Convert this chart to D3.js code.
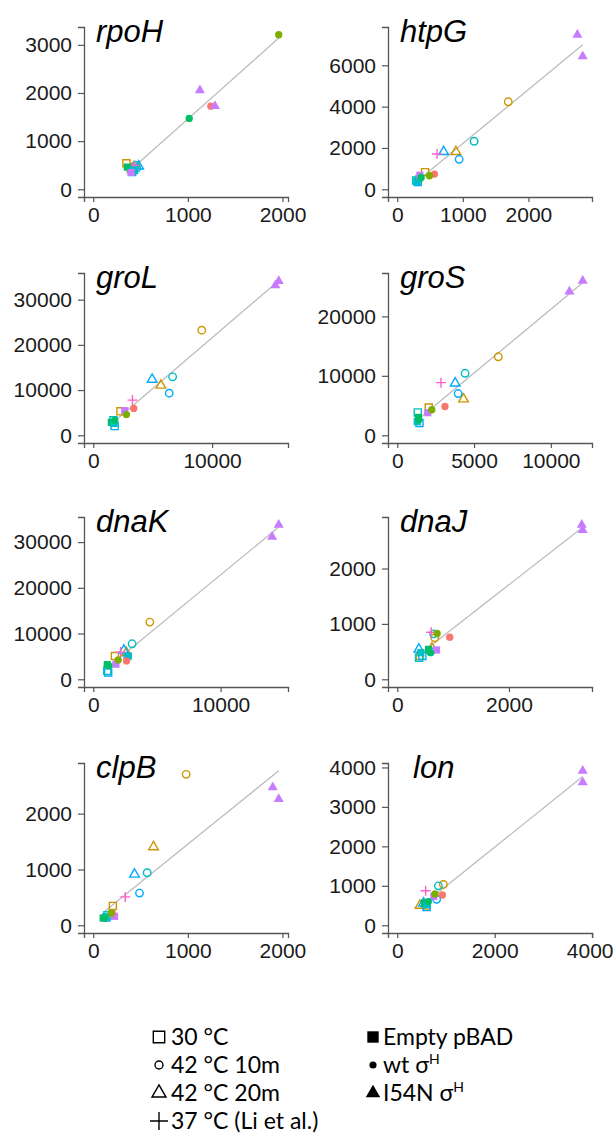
<!DOCTYPE html>
<html>
<head>
<meta charset="utf-8">
<script src="https://cdn.jsdelivr.net/npm/d3@7"></script>
<style>
  body { margin: 0; background: #fff; }
  .legend text { font-family: Lato, "Open Sans", sans-serif; }
</style>
</head>
<body>
<svg id="chart" width="614" height="1141"></svg>
<script>
// ---- data ----------------------------------------------------------------
const genes = ["rpoH", "htpG", "groL", "groS", "dnaK", "dnaJ", "clpB", "lon"];

// one entry per sample, same order in every gene array below
const groupColor = [1, 1, 1, 5, 5, 5, 4, 4, 7, 3, 4, 6, 0, 2, 3, 6, 6];
const groupShape = ["square", "circle", "triangle", "square", "circle", "triangle",
                    "square", "circle", "cross", "square", "square", "square",
                    "circle", "circle", "circle", "triangle", "triangle"];
const groupFilled = [false, false, false, false, false, false, false, false, false,
                     true, true, true, true, true, true, true, true];

const rpoHX = [350, 440, 410, 410, 460, 480, 430, 450, 430, 360, 420, 400, 1243, 1960, 1014, 1127, 1286];
const rpoHY = [540, 470, 430, 360, 440, 480, 400, 500, 500, 460, 390, 350, 1726, 3210, 1472, 2056, 1726];
const htpGX = [424, 1692, 894, 313, 944, 707, 288, 1172, 606, 330, 300, 345, 566, 490, 364, 2747, 2828];
const htpGY = [830, 4234, 1814, 350, 1451, 1814, 420, 2325, 1704, 520, 380, 680, 735, 654, 573, 7480, 6430];
const groLX = [2282, 9129, 5689, 1800, 6391, 4954, 1700, 6678, 3297, 1520, 1750, 2646, 3407, 2790, 1800, 15606, 15326];
const groLY = [5294, 23246, 11046, 2030, 9303, 12352, 3300, 12920, 7778, 2850, 2600, 5447, 5948, 4575, 3300, 34100, 33180];
const groSX = [2050, 6578, 4314, 1445, 3965, 3771, 1337, 4418, 2846, 1380, 1300, 1985, 3105, 2245, 1400, 12077, 11210];
const groSY = [4678, 13200, 6082, 2072, 7018, 8755, 3843, 10426, 8855, 3000, 2300, 3800, 4845, 4294, 2600, 26000, 24177];
const dnaKX = [1700, 4440, 2600, 1170, 2694, 2404, 1096, 3054, 2146, 1100, 2750, 1778, 2615, 1958, 1229, 14566, 14045];
const dnaKY = [5086, 12500, 5800, 1500, 4957, 6315, 1853, 7759, 5948, 3200, 5100, 3297, 4009, 4224, 2931, 33800, 31164];
const dnaJX = [405, 672, 620, 450, 600, 387, 390, 650, 607, 560, 420, 702, 940, 714, 595, 3304, 3321];
const dnaJY = [422, 750, 560, 420, 500, 541, 390, 820, 850, 540, 480, 529, 761, 827, 480, 2791, 2696];
const clpBX = [207, 982, 637, 140, 489, 436, 150, 570, 338, 105, 130, 225, 200, 190, 120, 1898, 1961];
const clpBY = [347, 2704, 1404, 140, 577, 913, 180, 941, 508, 130, 150, 161, 220, 220, 130, 2473, 2259];
const lonX = [600, 946, 466, 603, 808, 540, 580, 844, 582, 560, 610, 750, 926, 774, 637, 3807, 3807];
const lonY = [500, 1034, 500, 460, 659, 560, 550, 1000, 875, 560, 520, 733, 767, 792, 600, 3917, 3625];

const xTicks = [[0, 1000, 2000], [0, 1000, 2000], [0, 10000], [0, 5000, 10000],
                [0, 10000], [0, 2000], [0, 1000, 2000], [0, 2000, 4000]];
const yTicks = [[0, 1000, 2000, 3000], [0, 2000, 4000, 6000], [0, 10000, 20000, 30000],
                [0, 10000, 20000], [0, 10000, 20000, 30000], [0, 1000, 2000],
                [0, 1000, 2000], [0, 1000, 2000, 3000, 4000]];

const legendLeft = ["30 °C", "42 °C 10m", "42 °C 20m", "37 °C (Li et al.)"];
const legendRight = ["Empty pBAD", "wt σ", "I54N σ"];

const xData = [rpoHX, htpGX, groLX, groSX, dnaKX, dnaJX, clpBX, lonX];
const yData = [rpoHY, htpGY, groLY, groSY, dnaKY, dnaJY, clpBY, lonY];

// ggplot2 default hue palette for 8 levels
const palette = ["#F8766D", "#CD9600", "#7CAE00", "#00BE67", "#00BFC4", "#00A9FF", "#C77CFF", "#FF61CC"];

// ---- layout ----------------------------------------------------------------
const width = 614;
const colLeft = [84, 388];
const panelW = 204;
const rowTop = [27, 273, 517, 763];
const panelH = 170;
const axisFont = '"Liberation Sans", Arial, sans-serif';

const svg = d3.select("#chart");

function markPath(shape, filled) {
    if (shape === "cross") return "M-5,0H5M0,-5V5";
    if (shape === "square") return d3.symbol(d3.symbolSquare, filled ? 52 : 50)();
    if (shape === "triangle") return d3.symbol(d3.symbolTriangle, filled ? 44 : 40)();
    return d3.symbol(d3.symbolCircle, filled ? 42 : 44)();
}

// least squares fit, like geom_smooth(method = "lm")
function fitLine(xs, ys) {
    const mx = d3.mean(xs), my = d3.mean(ys);
    const b = d3.sum(xs, (x, i) => (x - mx) * (ys[i] - my)) / d3.sum(xs, x => (x - mx) ** 2);
    return { a: my - b * mx, b: b };
}

genes.forEach((gene, gi) => {
    const xs = xData[gi], ys = yData[gi];
    const L = colLeft[gi % 2], R = L + panelW;
    const T = rowTop[Math.floor(gi / 2)], B = T + panelH;

    const fit = fitLine(xs, ys);
    const x0 = d3.min(xs), x1 = d3.max(xs);
    const lineY = [fit.a + fit.b * x0, fit.a + fit.b * x1];

    const xMax = x1;
    const yMax = d3.max(ys.concat(lineY));
    const x = d3.scaleLinear().domain([-0.05 * xMax, 1.05 * xMax]).range([L, R]);
    const y = d3.scaleLinear().domain([-0.05 * yMax, 1.05 * yMax]).range([B, T]);

    const g = svg.append("g").attr("class", "panel");

    const xAxis = g.append("g")
        .attr("transform", `translate(0,${B})`)
        .call(d3.axisBottom(x).tickValues(xTicks[gi]).tickSizeOuter(0).tickSize(5).tickPadding(5)
            .tickFormat(d3.format("d")));
    const yAxis = g.append("g")
        .attr("transform", `translate(${L},0)`)
        .call(d3.axisLeft(y).tickValues(yTicks[gi]).tickSizeOuter(0).tickSize(6).tickPadding(6)
            .tickFormat(d3.format("d")));

    [xAxis, yAxis].forEach(ax => {
        ax.attr("font-family", null).attr("font-size", null);
        ax.select(".domain").attr("stroke", "#555").attr("stroke-width", 1.3);
        ax.selectAll(".tick line").attr("stroke", "#555").attr("stroke-width", 1.2);
        ax.selectAll(".tick text")
            .attr("fill", "#1a1a1a")
            .style("font-family", axisFont)
            .style("font-size", "21px");
    });

    // keep the last x label inside the page edge
    xAxis.selectAll(".tick text").each(function(d) {
        const half = this.getComputedTextLength() / 2;
        const over = x(d) + half - (width - 1);
        if (over > 0) d3.select(this).attr("dx", -over);
    });

    g.append("line")
        .attr("x1", x(x0)).attr("y1", y(lineY[0]))
        .attr("x2", x(x1)).attr("y2", y(lineY[1]))
        .attr("stroke", "#bdbdbd")
        .attr("stroke-width", 1.3);

    const idx = d3.range(xs.length);
    g.selectAll("path.pt")
        .data(idx)
        .enter()
        .append("path")
        .attr("class", "pt")
        .attr("transform", i => `translate(${x(xs[i])},${y(ys[i])})`)
        .attr("d", i => markPath(groupShape[i], groupFilled[i]))
        .attr("fill", i => groupFilled[i] ? palette[groupColor[i]] : "none")
        .attr("stroke", i => (groupFilled[i] && groupShape[i] !== "cross") ? "none" : palette[groupColor[i]])
        .attr("stroke-width", 1.4);

    g.append("text")
        .attr("x", L + (gene === "lon" ? 25 : 12))
        .attr("y", T + 15)
        .style("font-family", axisFont)
        .style("font-size", "31px")
        .style("font-style", "italic")
        .attr("fill", "#000")
        .text(gene);
});

// ---- legend ----------------------------------------------------------------
const legend = svg.append("g").attr("class", "legend");
const legRowY = [1037, 1065, 1093, 1121];
const leftShapes = ["square", "circle", "triangle", "cross"];
const rightShapes = ["square", "circle", "triangle"];

function legendIcon(shape, filled) {
    if (shape === "cross") return "M-9,0H9M0,-9V9";
    if (shape === "square") return d3.symbol(d3.symbolSquare, 130)();
    if (shape === "triangle") return d3.symbol(d3.symbolTriangle, filled ? 90 : 85)();
    return d3.symbol(d3.symbolCircle, filled ? 40 : 50)();
}

legendLeft.forEach((lab, i) => {
    legend.append("path")
        .attr("transform", `translate(159,${legRowY[i]})`)
        .attr("d", legendIcon(leftShapes[i], false))
        .attr("fill", "none")
        .attr("stroke", "#000")
        .attr("stroke-width", 1.4);
    legend.append("text")
        .attr("x", 171).attr("y", legRowY[i] + 8)
        .style("font-size", "23px")
        .attr("fill", "#000")
        .text(lab);
});

legendRight.forEach((lab, i) => {
    legend.append("path")
        .attr("transform", `translate(373,${legRowY[i]})`)
        .attr("d", legendIcon(rightShapes[i], true))
        .attr("fill", "#000");
    const t = legend.append("text")
        .attr("x", 383).attr("y", legRowY[i] + 8)
        .style("font-size", "23px")
        .attr("fill", "#000")
        .text(lab);
    if (i > 0) {
        t.append("tspan").attr("dy", -9).style("font-size", "14px").text("H");
    }
});
</script>
</body>
</html>
